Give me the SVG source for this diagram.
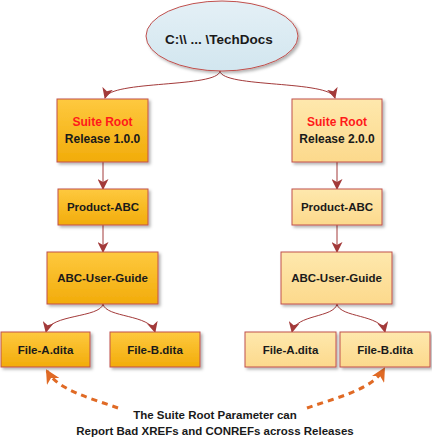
<svg xmlns="http://www.w3.org/2000/svg" width="432" height="442" viewBox="0 0 432 442">
<defs>
  <linearGradient id="gDark" x1="0" y1="0" x2="0" y2="1">
    <stop offset="0" stop-color="#fec93f"/>
    <stop offset="1" stop-color="#f2ac0a"/>
  </linearGradient>
  <linearGradient id="gLight" x1="0" y1="0" x2="0" y2="1">
    <stop offset="0" stop-color="#fee8ad"/>
    <stop offset="1" stop-color="#fcd98c"/>
  </linearGradient>
  <linearGradient id="gBlue" x1="0" y1="0" x2="0" y2="1">
    <stop offset="0" stop-color="#e4f0f6"/>
    <stop offset="1" stop-color="#d2e6ef"/>
  </linearGradient>
  <filter id="sh" x="-10%" y="-10%" width="130%" height="130%">
    <feDropShadow dx="2" dy="2" stdDeviation="1.5" flood-color="#000" flood-opacity="0.3"/>
  </filter>
  <marker id="ar" markerWidth="11" markerHeight="11" refX="10" refY="5.5" orient="auto" markerUnits="userSpaceOnUse">
    <path d="M0,0 L11,5.5 L0,11 L3,5.5 Z" fill="#a33a3a"/>
  </marker>
  <marker id="oa" markerWidth="14" markerHeight="14" refX="12" refY="7" orient="auto" markerUnits="userSpaceOnUse">
    <path d="M0,0 L14,7 L0,14 L4,7 Z" fill="#e06a25"/>
  </marker>
</defs>
<style>
  .dk { fill: url(#gDark); stroke: #c0504d; stroke-width: 1; filter: url(#sh); }
  .lt { fill: url(#gLight); stroke: #c0504d; stroke-width: 1; filter: url(#sh); }
  .el { fill: url(#gBlue); stroke: #c0504d; stroke-width: 1; filter: url(#sh); }
  text { font-family: "Liberation Sans", Arial, sans-serif; font-weight: bold; font-size: 11.5px; fill: #1a1a1a; text-anchor: middle; }
  text.big { font-size: 13.5px; }
  text.md { font-size: 12px; }
  text.red { fill: #ff1a1a; }
  .c { fill: none; stroke: #a33a3a; stroke-width: 1; marker-end: url(#ar); }
  .d { fill: none; stroke: #e06a25; stroke-width: 3; stroke-dasharray: 6 5; marker-end: url(#oa); }
</style>

<g id="connectors">
  <path class="c" d="M220,71 C218,88 110,80 105,98"/>
  <path class="c" d="M220,71 C222,88 330,80 335,98"/>
  <path class="c" d="M103,162 L103,189"/>
  <path class="c" d="M337,162 L337,189"/>
  <path class="c" d="M103,225 L103,252"/>
  <path class="c" d="M337,225 L337,252"/>
  <path class="c" d="M103,304 C100,318 50,314 46,332"/>
  <path class="c" d="M103,304 C106,318 150,314 155,332"/>
  <path class="c" d="M337,304 C334,318 296,314 292,332"/>
  <path class="c" d="M337,304 C340,318 381,314 385,332"/>
  <path class="d" d="M118,408 C90,398 58,390 47,371"/>
  <path class="d" d="M307,408 C335,398 372,390 384,369"/>
</g>

<g id="root">
  <ellipse class="el" cx="222" cy="36" rx="76" ry="35"/>
  <text class="big" x="219" y="44">C:\\ ... \TechDocs</text>
</g>

<g id="suite1">
  <rect class="dk" x="57" y="99" width="91" height="63"/>
  <text class="md red" x="102.5" y="126">Suite Root</text>
  <text class="md" x="102.5" y="143">Release 1.0.0</text>
</g>
<g id="suite2">
  <rect class="lt" x="292" y="99" width="90" height="63"/>
  <text class="md red" x="337" y="126">Suite Root</text>
  <text class="md" x="337" y="143">Release 2.0.0</text>
</g>

<g id="product1">
  <rect class="dk" x="58" y="189" width="90" height="36"/>
  <text x="103" y="211">Product-ABC</text>
</g>
<g id="product2">
  <rect class="lt" x="292" y="189" width="90" height="36"/>
  <text x="337" y="211">Product-ABC</text>
</g>

<g id="guide1">
  <rect class="dk" x="47" y="252" width="111" height="52"/>
  <text x="102.5" y="282">ABC-User-Guide</text>
</g>
<g id="guide2">
  <rect class="lt" x="281" y="252" width="111" height="52"/>
  <text x="336.5" y="282">ABC-User-Guide</text>
</g>

<g id="fileA1">
  <rect class="dk" x="1" y="332" width="89" height="35"/>
  <text x="45.5" y="354">File-A.dita</text>
</g>
<g id="fileB1">
  <rect class="dk" x="110" y="332" width="90" height="35"/>
  <text x="155" y="354">File-B.dita</text>
</g>
<g id="fileA2">
  <rect class="lt" x="245" y="332" width="91" height="35"/>
  <text x="290.5" y="354">File-A.dita</text>
</g>
<g id="fileB2">
  <rect class="lt" x="340" y="332" width="90" height="35"/>
  <text x="385" y="354">File-B.dita</text>
</g>

<g id="note">
  <text x="215" y="419">The Suite Root Parameter can</text>
  <text x="215" y="435">Report Bad XREFs and CONREFs across Releases</text>
</g>
</svg>
